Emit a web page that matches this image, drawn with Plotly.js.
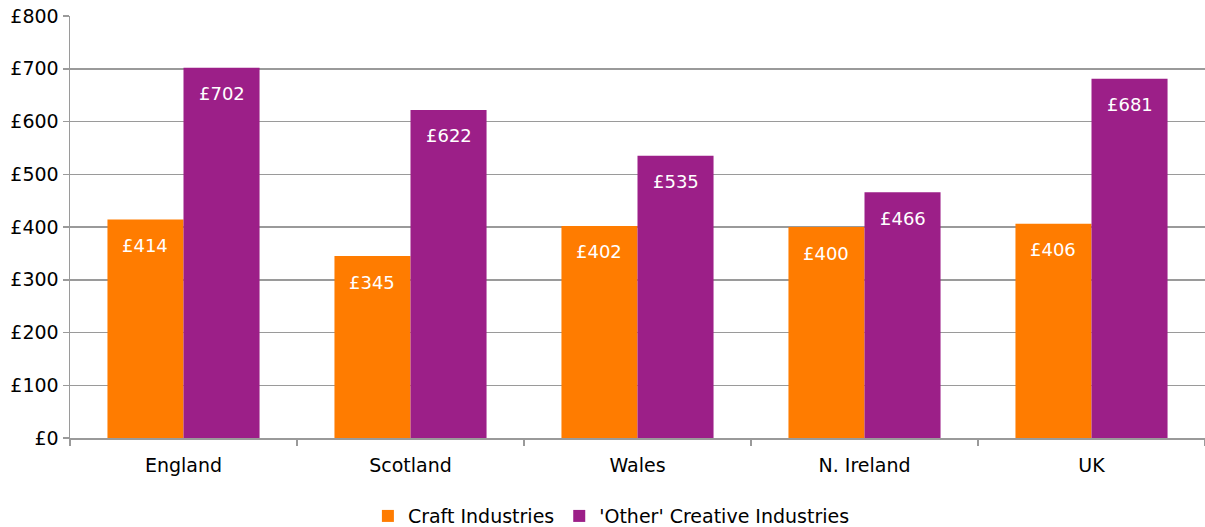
<!DOCTYPE html>
<html>
<head>
<meta charset="utf-8">
<script src="https://cdn.plot.ly/plotly-3.0.1.min.js"></script>
<style>html,body{margin:0;padding:0;background:#fff;}#chart{width:1205px;height:527px;}</style>
</head>
<body>
<div id="chart"></div>
<script>
const categories = ["England", "Scotland", "Wales", "N. Ireland", "UK"];
const craftValues = [414, 345, 402, 400, 406];
const otherValues = [702, 622, 535, 466, 681];
const seriesNames = ["Craft Industries", "'Other' Creative Industries"];
const yTickValues = [0, 100, 200, 300, 400, 500, 600, 700, 800];

const FONT = "DejaVu Sans, Verdana, sans-serif";
const ORANGE = "#FF7C00";
const PURPLE = "#9C1F88";
const GRID = "#9a9a9a";

const traces = [
  {type: "bar", name: seriesNames[0], x: categories, y: craftValues, marker: {color: ORANGE}, hoverinfo: "none"},
  {type: "bar", name: seriesNames[1], x: categories, y: otherValues, marker: {color: PURPLE}, hoverinfo: "none"}
];

const gap = 0.33;
const half = (1 - gap) / 4;
const annotations = [];
categories.forEach((c, i) => {
  annotations.push({x: i - half, y: craftValues[i], xref: "x", yref: "y", text: "£" + craftValues[i], showarrow: false, yshift: -26, font: {family: FONT, size: 18, color: "#ffffff"}});
  annotations.push({x: i + half, y: otherValues[i], xref: "x", yref: "y", text: "£" + otherValues[i], showarrow: false, yshift: -26, font: {family: FONT, size: 18, color: "#ffffff"}});
});

const layout = {
  width: 1205, height: 527,
  margin: {l: 70, r: 0, t: 16, b: 89, autoexpand: false},
  paper_bgcolor: "#ffffff", plot_bgcolor: "#ffffff",
  font: {family: FONT, size: 19, color: "#000000"},
  barmode: "group", bargap: gap, bargroupgap: 0,
  showlegend: true,
  legend: {orientation: "h", x: 0.477, xanchor: "center", y: -0.185, yanchor: "middle", font: {family: FONT, size: 19, color: "#000"}, itemwidth: 30, tracegroupgap: 0},
  xaxis: {
    type: "category", showgrid: false, showline: true, linecolor: GRID, linewidth: 1.5,
    ticks: "outside", tickson: "boundaries", ticklen: 6, tickcolor: GRID, tickwidth: 1.5,
    ticklabelstandoff: 10,
    tickfont: {family: FONT, size: 19, color: "#000"}, zeroline: false
  },
  yaxis: {
    range: [0, 800], tickvals: yTickValues, ticktext: yTickValues.map(v => "£" + v),
    showgrid: true, gridcolor: GRID, gridwidth: 1.5,
    showline: true, linecolor: GRID, linewidth: 1.5,
    ticks: "outside", ticklen: 6, tickcolor: GRID, tickwidth: 1.5,
    tickfont: {family: FONT, size: 19, color: "#000"}, zeroline: false
  },
  annotations: annotations
};

Plotly.newPlot("chart", traces, layout, {displayModeBar: false, staticPlot: true});
</script>
</body>
</html>
